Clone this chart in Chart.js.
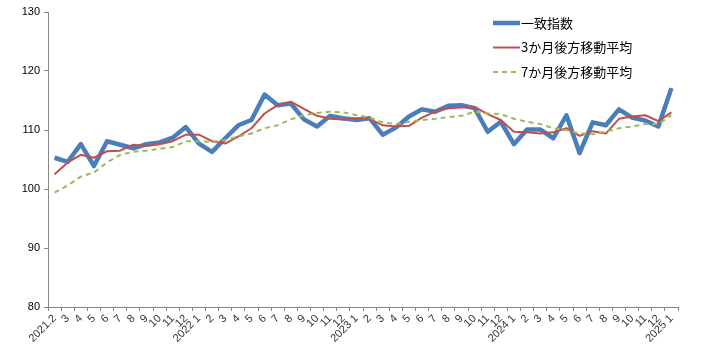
<!DOCTYPE html>
<html>
<head>
<meta charset="utf-8">
<script src="https://cdn.jsdelivr.net/npm/chart.js@4/dist/chart.umd.min.js"></script>
<style>
html,body{margin:0;padding:0;background:#fff;}
#wrap{position:relative;width:701px;height:357px;}
</style>
</head>
<body>
<div id="wrap"><canvas id="c" width="701" height="357"></canvas></div>
<script>
const categories = ["2021.2","3","4","5","6","7","8","9","10","11","12",
  "2022 1","2","3","4","5","6","7","8","9","10","11","12",
  "2023 1","2","3","4","5","6","7","8","9","10","11","12",
  "2024 1","2","3","4","5","6","7","8","9","10","11","12",
  "2025 1"];
const coincident = [105.3,104.6,107.6,103.9,108.1,107.5,106.9,107.6,107.9,108.7,110.5,
  107.7,106.3,108.6,110.8,111.7,116.0,114.2,114.5,111.8,110.6,112.4,112.0,
  111.7,112.0,109.2,110.4,112.3,113.5,113.1,114.1,114.2,113.7,109.7,111.4,
  107.6,110.1,110.1,108.6,112.5,106.1,111.3,110.8,113.5,112.1,111.6,110.6,
  117.1];
const ma3 = [102.5,104.5,105.8,105.3,106.4,106.5,107.5,107.3,107.6,108.1,109.2,
  109.2,108.1,107.7,108.9,110.3,112.8,114.2,114.8,113.6,112.4,111.9,111.8,
  112.0,111.9,110.8,110.6,110.7,112.1,113.1,113.7,113.8,113.9,112.7,111.7,
  109.7,109.6,109.4,109.6,110.3,109.0,109.8,109.4,111.9,112.3,112.5,111.5,
  113.0];
const ma7 = [99.4,100.6,102.1,102.8,104.5,105.8,106.3,106.5,106.8,107.1,108.1,
  108.1,108.0,108.3,108.9,109.4,110.3,110.8,111.8,112.5,112.9,113.1,113.0,
  112.5,112.1,111.3,111.0,111.4,111.7,111.9,112.2,112.4,113.1,112.8,112.7,
  111.9,111.4,111.0,110.3,110.0,109.4,109.3,109.7,110.3,110.6,111.0,111.0,
  112.5];
const yTicks = [80,90,100,110,120,130];
const seriesNames = ["一致指数","3か月後方移動平均","7か月後方移動平均"];

const legendPlugin = {
  id: 'insideLegend',
  afterDraw(chart) {
    const ctx = chart.ctx;
    const x0 = 493, x1 = 520, ys = [23, 47.5, 72];
    ctx.save();
    chart.data.datasets.forEach((ds, i) => {
      const y = ys[i];
      ctx.beginPath();
      ctx.strokeStyle = ds.borderColor;
      ctx.lineWidth = ds.borderWidth;
      ctx.lineCap = 'butt';
      ctx.setLineDash(ds.borderDash || []);
      ctx.moveTo(x0, y);
      ctx.lineTo(x1, y);
      ctx.stroke();
      ctx.setLineDash([]);
      ctx.fillStyle = '#000';
      ctx.font = '13px "Noto Sans CJK JP"';
      ctx.textBaseline = 'middle';
      ctx.textAlign = 'left';
      ctx.fillText(ds.label, x1 + 1, y);
    });
    ctx.restore();
  }
};

new Chart(document.getElementById('c'), {
  type: 'line',
  data: {
    labels: categories,
    datasets: [
      {label: seriesNames[0], data: coincident, borderColor: '#4A7EBB', borderWidth: 4.5, order: 3},
      {label: seriesNames[1], data: ma3, borderColor: '#C0504D', borderWidth: 2, order: 2},
      {label: seriesNames[2], data: ma7, borderColor: '#9BBB59', borderWidth: 2, borderDash: [5,4], order: 1}
    ]
  },
  options: {
    responsive: false,
    animation: false,
    devicePixelRatio: 1,
    layout: {padding: {left: 0, right: 23, top: 12, bottom: 0}},
    elements: {
      point: {radius: 0, hoverRadius: 0},
      line: {tension: 0, borderJoinStyle: 'round', borderCapStyle: 'butt'}
    },
    plugins: {legend: {display: false}, tooltip: {enabled: false}},
    scales: {
      x: {
        type: 'category',
        offset: true,
        grid: {offset: true, display: true, drawOnChartArea: false, drawTicks: true, tickLength: 4, color: '#868686'},
        border: {display: true, color: '#868686', width: 1},
        ticks: {autoSkip: false, maxRotation: 45, minRotation: 45, padding: 1,
                color: '#333', font: {size: 11, family: '"Liberation Sans", Arial, sans-serif'}},
        afterFit(scale) { scale.height = 50; }
      },
      y: {
        min: 80, max: 130,
        afterBuildTicks(scale) { scale.ticks = yTicks.map(v => ({value: v})); },
        grid: {display: true, drawOnChartArea: false, drawTicks: true, tickLength: 4, color: '#868686'},
        border: {display: true, color: '#868686', width: 1},
        ticks: {padding: 4, color: '#000', font: {size: 11, family: '"Liberation Sans", Arial, sans-serif'}},
        afterFit(scale) { scale.width = 48; }
      }
    }
  },
  plugins: [legendPlugin]
});
</script>
</body>
</html>
